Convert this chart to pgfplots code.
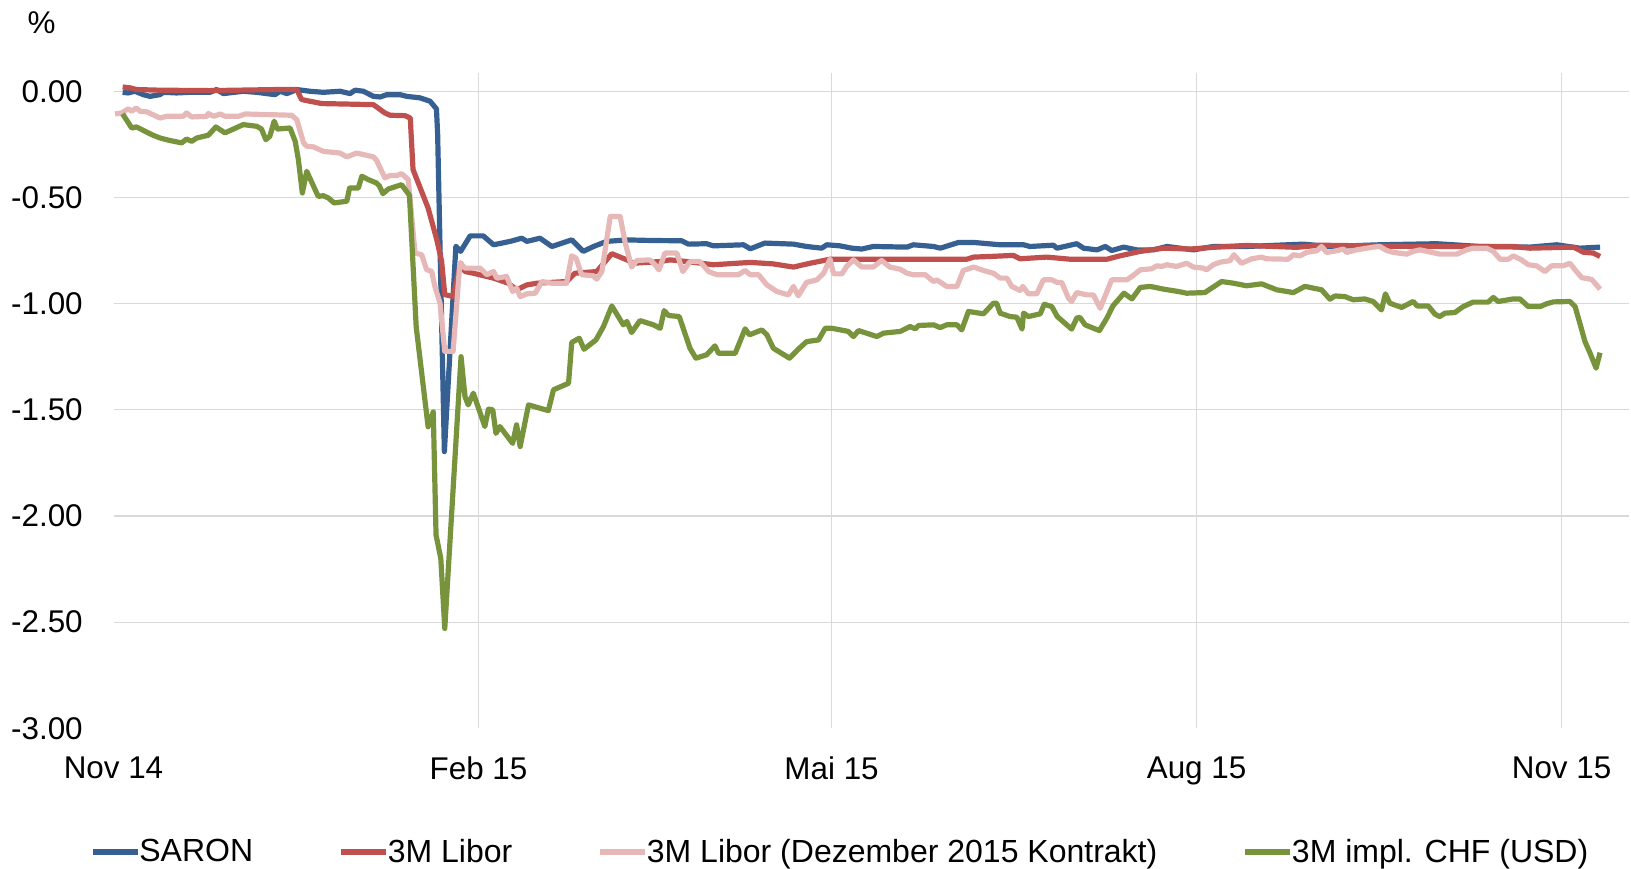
\documentclass[border=0pt]{standalone}
\usepackage{pgfplots}
\pgfplotsset{compat=1.18}
\usepackage{fontspec}
\setmainfont{Liberation Sans}
\definecolor{saron}{RGB}{54,96,146}
\definecolor{libor}{RGB}{192,80,77}
\definecolor{kontrakt}{RGB}{230,184,183}
\definecolor{implchf}{RGB}{119,147,60}
\definecolor{gridgray}{RGB}{217,217,217}
\begin{document}
\begin{tikzpicture}
\useasboundingbox (0,0) rectangle (815.5pt,434pt);
\begin{axis}[
  at={(56.75pt,69.85pt)}, anchor=south west,
  scale only axis, width=757.75pt, height=327.65pt,
  xmin=0, xmax=382, ymin=-3, ymax=0.086,
  axis line style={draw=none},
  major tick length=0pt, tick style={draw=none},
  xtick={92,181,273,365}, xticklabels={Feb 15,Mai 15,Aug 15,Nov 15},
  extra x ticks={0}, extra x tick labels={Nov 14}, extra x tick style={grid=none},
  ytick={-2.5,-2,-1.5,-1,-0.5,0}, yticklabels={-2.50,-2.00,-1.50,-1.00,-0.50,0.00},
  extra y ticks={-3}, extra y tick labels={-3.00}, extra y tick style={grid=none},
  grid=major, major grid style={draw=gridgray, line width=0.6pt},
  tick label style={font=\fontsize{15.7}{18}\selectfont, inner sep=0pt},
  xticklabel style={anchor=north, yshift=-14pt},
  yticklabel style={anchor=east, xshift=-15.2pt},
  legend columns=4, legend cell align=left,
  legend style={at={(-0.0155,-0.189)}, anchor=west, draw=none, fill=none,
    inner sep=0pt, outer sep=0pt, font=\fontsize{16}{19}\selectfont,
    nodes={inner sep=0pt},
    /tikz/every even column/.append style={column sep=42.6pt},
    /tikz/every odd column/.append style={column sep=-0.6pt}},
  legend image code/.code={\draw[#1, line width=2.9pt] (0pt,0pt) -- (22.4pt,0pt);},
  every axis plot/.append style={line width=2.6pt, line join=round},
]
\addplot[saron] coordinates {
(2.3,-0.005) (3.7,-0.008) (5.4,0.0) (7.5,-0.016) (9.2,-0.024) (11.7,-0.016) (12.6,-0.005) (15.9,-0.008) (19.3,-0.005) (24.3,-0.005) (26,0.008) (27.7,-0.011) (32.7,0) (36.1,-0.005) (40.7,-0.016) (42,0) (43.7,-0.011) (46.2,0.008) (49.5,0) (52.9,-0.005) (57.1,0) (59.6,-0.011) (60.9,0.005) (63,0) (65.5,-0.024) (67.2,-0.027) (68.9,-0.016) (72.2,-0.016) (73.9,-0.024) (77.2,-0.031) (79.8,-0.047) (81.4,-0.083) (81.7,-0.2) (83.4,-1.697) (86.3,-0.73) (87.5,-0.754) (89.9,-0.681) (93.2,-0.681) (95.8,-0.723) (100,-0.707) (102.9,-0.692) (104.2,-0.707) (107.5,-0.692) (110.5,-0.731) (115.5,-0.70) (118.4,-0.754) (121,-0.731) (124.3,-0.707) (129.4,-0.70) (136.1,-0.703) (143.2,-0.704) (144.9,-0.72) (149.5,-0.718) (151.2,-0.728) (158.8,-0.723) (160.5,-0.742) (164.2,-0.715) (171.4,-0.72) (174.7,-0.731) (178.5,-0.739) (179.8,-0.723) (183.1,-0.728) (186.1,-0.739) (188.6,-0.743) (191.5,-0.731) (200,-0.734) (201.6,-0.723) (206.7,-0.731) (208.4,-0.739) (213,-0.712) (216.8,-0.712) (223.5,-0.723) (229.4,-0.723) (231,-0.731) (236.9,-0.725) (237.8,-0.739) (242.8,-0.718) (244.5,-0.739) (247.9,-0.747) (250,-0.731) (251.6,-0.75) (254.6,-0.734) (257.9,-0.747) (262.1,-0.747) (265.5,-0.731) (272.2,-0.747) (277.2,-0.731) (285.6,-0.731) (299.9,-0.72) (306.6,-0.731) (319.2,-0.723) (333.5,-0.718) (344.4,-0.731) (357,-0.734) (363.8,-0.723) (369.6,-0.739) (374.7,-0.734)
};
\addlegendentry{SARON}
\addplot[libor] coordinates {
(2.3,0.02) (4.2,0.016) (5.8,0.008) (11.7,0.005) (24.3,0.003) (41.1,0.008) (46.2,0.008) (47.4,-0.039) (49.5,-0.047) (52.5,-0.058) (57.9,-0.06) (65.5,-0.063) (68.4,-0.102) (69.7,-0.113) (73.5,-0.115) (74.8,-0.126) (75.5,-0.369) (79.3,-0.55) (81.5,-0.70) (82.7,-0.80) (83.5,-0.958) (85.6,-0.966) (87.5,-0.809) (88.6,-0.849) (90.7,-0.857) (95.8,-0.88) (99.5,-0.904) (101.6,-0.935) (104.2,-0.912) (106.7,-0.904) (114.2,-0.896) (116.3,-0.857) (121.8,-0.849) (125.6,-0.765) (129.4,-0.794) (131,-0.81) (137.8,-0.802) (140.3,-0.794) (144.5,-0.802) (151.2,-0.817) (160.5,-0.806) (166.3,-0.813) (171.4,-0.828) (173.9,-0.817) (175.6,-0.81) (180.6,-0.791) (215.1,-0.791) (216.8,-0.781) (221,-0.778) (226.8,-0.773) (228.5,-0.789) (235.2,-0.781) (241.1,-0.791) (250.4,-0.791) (253.7,-0.775) (258.8,-0.754) (264.7,-0.739) (271.4,-0.743) (277.2,-0.735) (285.6,-0.726) (298.2,-0.735) (304.1,-0.725) (327.6,-0.731) (352.8,-0.731) (357,-0.739) (368,-0.734) (370.5,-0.758) (373,-0.762) (374.7,-0.778)
};
\addlegendentry{3M Libor}
\addplot[kontrakt] coordinates {
(0.4,-0.107) (2.1,-0.102) (3.7,-0.083) (4.6,-0.094) (5.7,-0.079) (6.7,-0.094) (8.4,-0.097) (11.7,-0.126) (13.4,-0.118) (17.6,-0.118) (18.4,-0.102) (19.7,-0.121) (23.5,-0.118) (23.9,-0.105) (25.2,-0.118) (26.9,-0.107) (28.1,-0.118) (31.5,-0.118) (33.2,-0.107) (44.9,-0.113) (46.2,-0.134) (47.9,-0.243) (48.7,-0.259) (50.4,-0.262) (52.9,-0.283) (57.1,-0.291) (58.8,-0.309) (61.3,-0.291) (65.5,-0.309) (66.3,-0.325) (68.4,-0.408) (69.7,-0.397) (71.4,-0.397) (72.6,-0.388) (74.3,-0.416) (76,-0.762) (77.7,-0.77) (78.9,-0.84) (80.2,-0.848) (81,-0.919) (82.3,-0.997) (83.5,-1.225) (85.6,-1.225) (87.3,-0.809) (88.6,-0.833) (92.4,-0.833) (94.1,-0.864) (95.8,-0.849) (96.6,-0.88) (99.1,-0.872) (100.6,-0.943) (101.6,-0.927) (102.5,-0.967) (104.2,-0.954) (106.3,-0.951) (108,-0.896) (110.5,-0.904) (114.2,-0.904) (115.5,-0.775) (116.6,-0.786) (118,-0.864) (121,-0.869) (121.8,-0.885) (123.1,-0.849) (125.2,-0.59) (127.7,-0.59) (129,-0.715) (130.6,-0.828) (131.9,-0.797) (135.2,-0.794) (136.5,-0.817) (137.5,-0.841) (139,-0.762) (142,-0.762) (143.5,-0.849) (145.3,-0.802) (147.8,-0.802) (150,-0.849) (152.1,-0.864) (157.5,-0.864) (159.2,-0.844) (160.5,-0.864) (162.6,-0.864) (164.7,-0.912) (167.2,-0.943) (170.1,-0.959) (171.4,-0.919) (172.6,-0.963) (174.7,-0.90) (177.3,-0.888) (179,-0.857) (180.6,-0.790) (181.5,-0.86) (183.6,-0.86) (184.8,-0.825) (186.5,-0.794) (188.6,-0.828) (191.5,-0.828) (193.6,-0.797) (195.7,-0.828) (198.3,-0.838) (200,-0.857) (201.6,-0.864) (204.6,-0.864) (206.7,-0.896) (207.5,-0.888) (210,-0.919) (212.6,-0.919) (214.2,-0.844) (216.8,-0.828) (219.3,-0.844) (221.8,-0.857) (223.5,-0.88) (225.2,-0.88) (226.4,-0.919) (228.5,-0.938) (229.2,-0.919) (230.6,-0.954) (232.7,-0.954) (234.4,-0.888) (236.5,-0.888) (237.8,-0.90) (239,-0.90) (240.7,-0.974) (241.5,-0.99) (242.8,-0.948) (245.3,-0.959) (247,-0.959) (248.7,-1.022) (251.6,-0.888) (255.4,-0.888) (256.7,-0.872) (258.8,-0.841) (261.7,-0.836) (263,-0.822) (264.2,-0.825) (265.5,-0.817) (268,-0.825) (270.5,-0.81) (272.2,-0.828) (274.7,-0.833) (275.5,-0.841) (277.2,-0.817) (278.9,-0.805) (281.4,-0.798) (282.4,-0.77) (284.3,-0.81) (286.9,-0.789) (289.4,-0.781) (290.6,-0.789) (296.1,-0.791) (297.4,-0.77) (299.1,-0.775) (300.7,-0.759) (303.3,-0.751) (304.5,-0.731) (305.8,-0.759) (308.3,-0.751) (310,-0.743) (310.8,-0.759) (313.3,-0.747) (315.9,-0.739) (317.5,-0.734) (319.2,-0.731) (320.9,-0.75) (322.6,-0.759) (326,-0.767) (327.6,-0.754) (329.3,-0.747) (331.8,-0.757) (334.3,-0.767) (338.6,-0.767) (341.1,-0.747) (342.7,-0.739) (346.1,-0.739) (347.8,-0.754) (349.5,-0.791) (351.6,-0.791) (352.8,-0.775) (354.9,-0.794) (356.6,-0.817) (358.7,-0.822) (360.8,-0.849) (362.5,-0.822) (365.4,-0.822) (367.1,-0.81) (368.4,-0.841) (370.1,-0.878) (372.6,-0.886) (374.7,-0.932)
};
\addlegendentry{3M Libor (Dezember 2015 Kontrakt)}
\addplot[implchf] coordinates {
(2.3,-0.107) (4.6,-0.173) (5.8,-0.168) (9.6,-0.204) (11.7,-0.22) (14.2,-0.232) (17.2,-0.243) (18.4,-0.225) (19.7,-0.236) (21,-0.22) (23.9,-0.207) (25.8,-0.168) (28.1,-0.196) (32.7,-0.157) (36.1,-0.165) (37.3,-0.178) (38.4,-0.228) (39.4,-0.212) (40.5,-0.141) (41.3,-0.178) (44.5,-0.173) (45.8,-0.236) (46.6,-0.322) (47.6,-0.479) (48.7,-0.377) (51.6,-0.495) (52.9,-0.492) (54.2,-0.503) (55.6,-0.526) (58.8,-0.518) (59.5,-0.456) (61.7,-0.456) (62.6,-0.40) (64.2,-0.416) (66.3,-0.432) (67,-0.445) (67.9,-0.482) (69.3,-0.46) (72.6,-0.44) (74.6,-0.49) (76.3,-1.11) (79.3,-1.58) (80.6,-1.51) (81.3,-2.09) (82.5,-2.2) (83.5,-2.53) (87.6,-1.25) (88.6,-1.438) (89.4,-1.477) (90.7,-1.422) (93.6,-1.579) (94.5,-1.497) (95.6,-1.50) (96.4,-1.611) (97.4,-1.579) (100.6,-1.658) (101.6,-1.571) (102.5,-1.673) (104.6,-1.477) (109.6,-1.504) (110.9,-1.406) (114.7,-1.375) (115.5,-1.183) (117.4,-1.163) (118.6,-1.215) (121.6,-1.171) (123.5,-1.108) (125.6,-1.011) (128.5,-1.10) (129.4,-1.084) (130.6,-1.136) (132.7,-1.08) (136.1,-1.10) (137.8,-1.116) (138.8,-1.033) (139.9,-1.056) (142.6,-1.061) (145.3,-1.21) (146.8,-1.257) (149.5,-1.241) (151.6,-1.199) (152.5,-1.234) (156.7,-1.234) (159.2,-1.119) (160.3,-1.147) (163.4,-1.124) (164.7,-1.147) (166.3,-1.21) (170.4,-1.257) (172.6,-1.215) (174.7,-1.179) (177.7,-1.171) (179.4,-1.116) (181,-1.116) (185.2,-1.131) (186.5,-1.155) (187.8,-1.127) (192.4,-1.155) (194.1,-1.139) (198.3,-1.131) (200.8,-1.108) (202.1,-1.119) (202.9,-1.103) (206.7,-1.10) (208.4,-1.113) (210,-1.10) (212.6,-1.10) (213.8,-1.124) (215.5,-1.037) (219.3,-1.048) (221.8,-0.998) (222.6,-0.998) (223.5,-1.045) (226,-1.061) (227.7,-1.064) (229,-1.12) (229.4,-1.045) (230.6,-1.061) (233.6,-1.048) (234.6,-1.003) (236.5,-1.014) (237.9,-1.061) (241.5,-1.12) (242.8,-1.068) (243.6,-1.065) (244.9,-1.10) (248.5,-1.127) (250.4,-1.068) (251.9,-1.011) (254.7,-0.951) (256.7,-0.978) (258.8,-0.924) (261.3,-0.919) (264.7,-0.932) (268.4,-0.943) (270.5,-0.951) (275.1,-0.948) (279.3,-0.896) (282.3,-0.904) (285.6,-0.916) (289.4,-0.907) (293.2,-0.935) (297.4,-0.948) (300.3,-0.919) (304.5,-0.935) (306.6,-0.979) (307.9,-0.964) (310.4,-0.967) (312.5,-0.982) (315.4,-0.978) (317.5,-0.99) (319.6,-1.03) (320.6,-0.954) (321.7,-0.998) (324.7,-1.018) (327.6,-0.99) (328.6,-1.011) (331.4,-1.011) (333.1,-1.05) (334.3,-1.061) (335.6,-1.045) (338.1,-1.042) (340.2,-1.014) (342.7,-0.993) (346.5,-0.993) (347.8,-0.971) (349,-0.99) (352.8,-0.978) (354.5,-0.978) (356.6,-1.014) (359.6,-1.014) (361.2,-1.001) (362.9,-0.992) (367.1,-0.99) (368.4,-1.014) (369.6,-1.092) (370.9,-1.179) (372.2,-1.234) (373.7,-1.304) (374.7,-1.231)
};
\addlegendentry{3M impl. CHF (USD)}
\end{axis}
\node[inner sep=0pt, font=\fontsize{15.7}{18}\selectfont] at (20.8pt,422.5pt) {\%};
\end{tikzpicture}
\end{document}
